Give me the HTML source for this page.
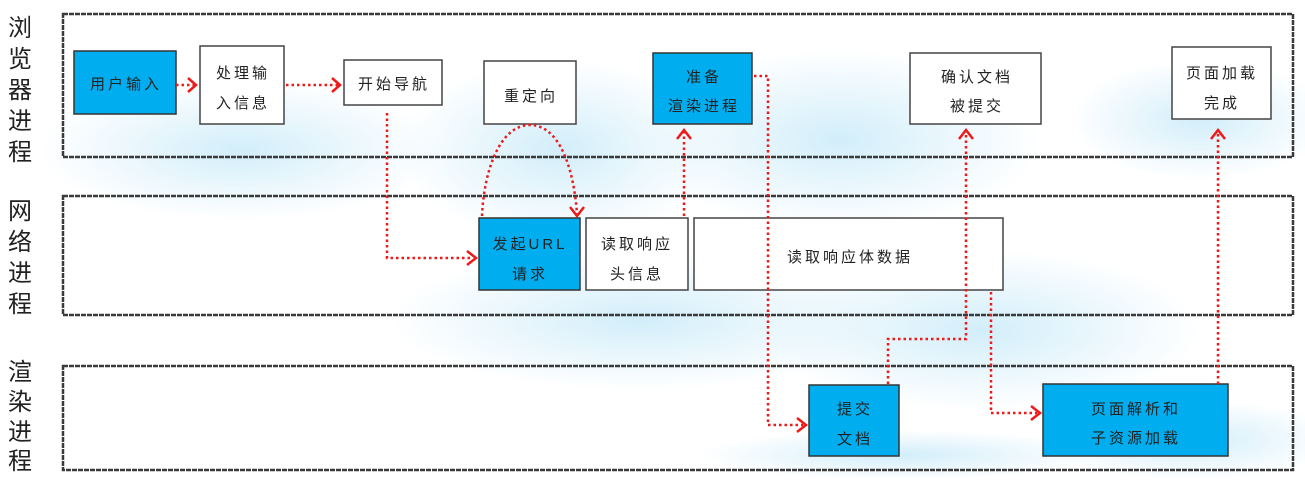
<!DOCTYPE html>
<html><head><meta charset="utf-8"><style>
html,body{margin:0;padding:0;background:#fff;width:1305px;height:481px;overflow:hidden;}
svg{display:block;}
text{font-family:"Liberation Sans","Noto Sans CJK SC",sans-serif;font-size:15px;fill:#222;text-anchor:middle;letter-spacing:3px;}
.lab{font-size:24px;fill:#222;letter-spacing:0;}
.lane{fill:none;stroke:#3a3a3a;stroke-width:2.5;stroke-dasharray:5 1;}
.bw{fill:#fff;stroke:#444;stroke-width:1.5;}
.bb{fill:#00aeef;stroke:#333;stroke-width:1.5;}
.c{fill:none;stroke:#f01818;stroke-width:2.5;stroke-dasharray:2.5 3;}
.ah{fill:none;stroke:#f01818;stroke-width:2.5;}
</style></head><body>
<svg width="1305" height="481" viewBox="0 0 1305 481" xmlns="http://www.w3.org/2000/svg">
<defs>
<radialGradient id="g" cx="50%" cy="50%" r="50%">
<stop offset="0" stop-color="#d2eefa"/><stop offset="1" stop-color="#d2eefa" stop-opacity="0"/>
</radialGradient>
</defs>
<rect width="1305" height="481" fill="#fff"/>
<ellipse cx="240" cy="150" rx="200" ry="70" fill="url(#g)"/>
<ellipse cx="560" cy="150" rx="160" ry="90" fill="url(#g)"/>
<ellipse cx="840" cy="140" rx="200" ry="90" fill="url(#g)"/>
<ellipse cx="1200" cy="120" rx="130" ry="60" fill="url(#g)"/>
<ellipse cx="640" cy="320" rx="250" ry="70" fill="url(#g)"/>
<ellipse cx="980" cy="330" rx="220" ry="80" fill="url(#g)"/>
<ellipse cx="1190" cy="440" rx="150" ry="40" fill="url(#g)"/>
<ellipse cx="900" cy="455" rx="200" ry="25" fill="url(#g)"/>

<text class="lab" x="20" y="36">浏</text><text class="lab" x="20" y="67">览</text><text class="lab" x="20" y="98">器</text><text class="lab" x="20" y="129">进</text><text class="lab" x="20" y="160">程</text>
<text class="lab" x="20" y="219">网</text><text class="lab" x="20" y="250">络</text><text class="lab" x="20" y="281">进</text><text class="lab" x="20" y="312">程</text>
<text class="lab" x="20" y="380">渲</text><text class="lab" x="20" y="410">染</text><text class="lab" x="20" y="440">进</text><text class="lab" x="20" y="469">程</text>

<rect class="lane" x="63" y="14" width="1230" height="143"/>
<rect class="lane" x="63" y="196" width="1230" height="119"/>
<rect class="lane" x="63" y="366" width="1230" height="104"/>

<rect class="bb" x="74" y="51" width="102" height="63"/><text x="126" y="89">用户输入</text>
<rect class="bw" x="200" y="46" width="84" height="78"/><text x="243" y="78">处理输</text><text x="243" y="108">入信息</text>
<rect class="bw" x="344" y="60" width="98" height="45"/><text x="394" y="89">开始导航</text>
<rect class="bw" x="484" y="61" width="92" height="63"/><text x="531" y="101">重定向</text>
<rect class="bb" x="653" y="53" width="99" height="71"/><text x="704" y="82">准备</text><text x="704" y="111">渲染进程</text>
<rect class="bw" x="910" y="53" width="131" height="71"/><text x="977" y="82">确认文档</text><text x="977" y="111">被提交</text>
<rect class="bw" x="1172" y="47" width="99" height="72"/><text x="1222" y="78">页面加载</text><text x="1222" y="108">完成</text>

<rect class="bb" x="479" y="218" width="101" height="72"/><text x="530" y="249">发起URL</text><text x="530" y="279">请求</text>
<rect class="bw" x="586" y="218" width="102" height="72"/><text x="637" y="249">读取响应</text><text x="637" y="279">头信息</text>
<rect class="bw" x="694" y="218" width="309" height="72"/><text x="850" y="262">读取响应体数据</text>

<rect class="bb" x="809" y="385" width="90" height="71"/><text x="855" y="414">提交</text><text x="855" y="444">文档</text>
<rect class="bb" x="1043" y="384" width="185" height="72"/><text x="1136" y="414">页面解析和</text><text x="1136" y="443">子资源加载</text>

<path class="c" d="M176 85 H194"/><path class="ah" d="M188 78 L196 85 L188 92"/>
<path class="c" d="M286 85 H338"/><path class="ah" d="M332 78 L340 85 L332 92"/>
<path class="c" d="M387 113 V258 H472"/><path class="ah" d="M467 251 L476 258 L467 265"/>
<path class="c" d="M482 216 C484 170 500 125 530 125 C560 125 574 170 577 214"/><path class="ah" d="M570 207 L577 216 L584 207"/>
<path class="c" d="M684 216 V132"/><path class="ah" d="M677 139 L684 130 L691 139"/>
<path class="c" d="M754 76 H768 V425 H803"/><path class="ah" d="M797 418 L806 425 L797 432"/>
<path class="c" d="M888 384 V339 H966 V132"/><path class="ah" d="M959 139 L966 130 L973 139"/>
<path class="c" d="M991 292 V413 H1037"/><path class="ah" d="M1031 406 L1040 413 L1031 420"/>
<path class="c" d="M1218 384 V132"/><path class="ah" d="M1211 139 L1218 130 L1225 139"/>
</svg>
</body></html>
